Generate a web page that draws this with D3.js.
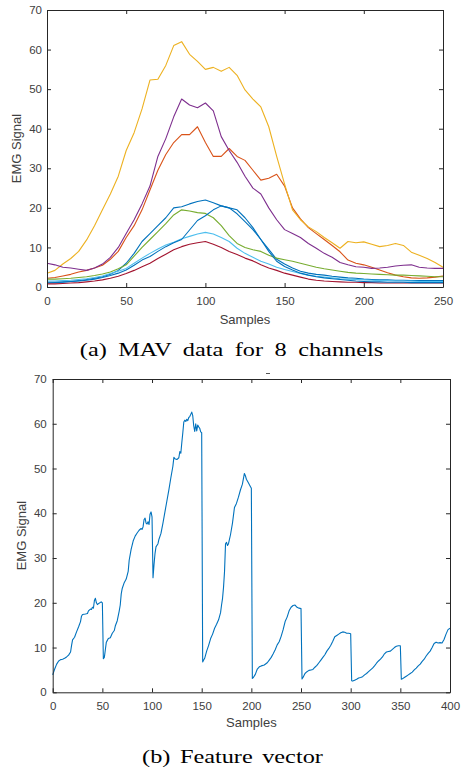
<!DOCTYPE html>
<html>
<head>
<meta charset="utf-8">
<script src="https://cdnjs.cloudflare.com/ajax/libs/d3/7.8.5/d3.min.js"></script>
<style>
	html, body { margin: 0; padding: 0; background: #fff; }
	svg { display: block; }
	.tick text { font-family: "Liberation Sans", Arial, sans-serif; font-size: 11.5px; fill: #404040; }
	.axis path, .axis line { stroke: #262626; }
	.lbl { font-family: "Liberation Sans", Arial, sans-serif; font-size: 13px; fill: #404040; }
	.cap { font-family: "Liberation Serif", "Times New Roman", serif; font-size: 18px; fill: #000; }
</style>
</head>
<body>
<div id="chart"></div>
<script>

// MAV data, one value every 5 samples
const channelSamples = [0,5,10,15,20,25,30,35,40,45,50,55,60,65,70,75,80,85,90,95,100,105,110,115,120,125,130,135,140,145,150,155,160,165,170,175,180,185,190,195,200,205,210,215,220,225,230,235,240,245,250];

const ch1 = [1.0,1.1,1.2,1.4,1.6,1.9,2.2,2.6,3.2,4.2,6.0,8.5,11.5,13.5,15.5,17.5,20.0,20.3,21.0,21.6,22.0,21.3,20.5,20.0,18.5,16.5,14.5,12.0,9.5,7.0,5.8,4.8,4.0,3.5,3.2,3.0,2.7,2.5,2.3,2.2,2.0,1.9,1.8,1.8,1.7,1.7,1.6,1.6,1.6,1.6,1.6];
const ch2 = [2.2,2.4,2.8,3.2,3.8,4.2,4.8,5.5,7.0,9.0,12.5,15.5,19.5,24.5,29.5,33.5,36.5,38.5,38.5,40.5,36.5,33.0,33.0,35.0,33.0,32.0,29.5,27.0,27.5,28.5,25.5,20.0,17.2,15.0,13.5,12.0,10.5,8.9,6.8,6.0,5.6,5.0,4.3,3.6,3.0,2.6,2.3,2.2,2.3,2.5,2.8];
const ch3 = [3.5,4.2,5.8,7.2,9.0,11.9,15.5,19.5,23.5,28.0,34.5,39.0,45.0,52.3,52.5,56.0,61.0,62.0,58.8,57.0,55.0,55.5,54.5,55.5,53.5,49.8,47.5,45.5,40.5,33.0,26.0,19.5,17.0,15.2,14.0,12.5,11.2,9.8,11.5,11.2,11.4,10.8,10.2,10.5,11.0,10.5,8.8,8.0,7.2,6.2,5.0];
const ch4 = [6.0,5.6,5.0,4.8,4.5,4.2,4.8,5.8,7.5,10.0,13.5,17.0,21.0,25.5,33.0,37.5,43.0,47.5,46.0,45.3,46.5,44.5,38.0,34.5,31.5,28.0,25.0,23.5,20.0,17.0,14.5,13.5,12.5,11.0,9.8,8.5,7.5,6.2,5.6,5.1,5.0,4.7,4.8,5.0,5.3,5.5,5.6,5.0,4.8,4.7,4.7];
const ch5 = [2.0,2.0,2.1,2.2,2.4,2.6,2.9,3.3,3.8,4.6,5.6,7.8,10.0,12.0,14.0,16.0,18.2,19.5,19.2,18.8,18.6,17.5,15.5,13.0,11.0,10.0,9.4,9.0,8.0,7.3,6.9,6.5,6.0,5.5,5.0,4.6,4.3,4.0,3.7,3.5,3.4,3.3,3.2,3.1,3.0,3.0,2.9,2.8,2.7,2.6,2.6];
const ch6 = [1.5,1.5,1.6,1.7,1.9,2.1,2.4,2.8,3.4,4.0,4.7,6.0,7.3,8.5,9.6,10.6,11.3,12.2,12.8,13.4,13.8,13.4,12.5,11.5,9.8,8.5,7.5,6.5,5.8,5.0,4.4,3.9,3.4,3.0,2.7,2.5,2.3,2.1,2.0,1.9,1.8,1.7,1.6,1.6,1.5,1.5,1.5,1.4,1.4,1.4,1.4];
const ch7 = [0.8,0.8,0.9,1.0,1.1,1.3,1.5,1.8,2.2,2.7,3.4,4.2,5.1,6.0,7.2,8.3,9.4,10.2,10.8,11.2,11.5,10.8,10.0,9.0,8.2,7.3,6.6,5.6,4.8,4.2,3.5,3.0,2.5,2.0,1.7,1.5,1.4,1.3,1.2,1.2,1.1,1.1,1.0,1.0,1.0,1.0,1.0,1.0,1.0,1.0,1.0];
const ch8 = [1.2,1.2,1.3,1.4,1.5,1.7,2.0,2.4,2.9,3.5,4.3,5.5,6.8,7.7,9.0,10.2,11.2,12.0,14.4,16.8,18.0,19.5,20.5,20.0,19.5,17.5,15.0,12.0,9.0,6.5,5.2,4.3,3.5,3.0,2.6,2.3,2.1,1.9,1.7,1.5,1.4,1.3,1.3,1.2,1.2,1.2,1.1,1.1,1.1,1.1,1.1];

const channels = [ch1, ch2, ch3, ch4, ch5, ch6, ch7, ch8];
const channelColors = ['#0072BD','#D95319','#EDB120','#7E2F8E','#77AC30','#4DBEEE','#A2142F','#0072BD'];

// feature vector (8 x 50 samples)
const featureSamples = [0,2,4,6,8,10,12,14,16,18,19,20,22,24,26,28,29,30,33,35,36,38,39,40,41,42,43,44,45,46,48,49,50,
	51,52,53,54,55,56,58,60,62,63,65,67,68,69,70,72,74,76,77,79,81,83,85,87,89,90,91,92,93,94,95,96,97,98,99,100,
	101,102,103,104,106,107,109,111,113,115,117,119,121,122,123,125,127,128,129,130,131,132,133,134,135,136,137,138,139,140,141,142,143,144,145,146,147,148,149,150,
	151,152,153,155,157,159,161,163,165,167,169,170,171,172,173,174,175,176,177,179,181,183,185,187,189,191,193,194,195,197,199,200,
	201,202,204,206,208,210,213,216,218,220,222,224,226,228,230,232,234,236,238,240,242,244,246,248,250,
	251,252,254,256,258,260,262,264,266,268,270,272,274,276,278,280,282,284,286,288,290,292,294,296,298,300,
	301,302,304,306,308,310,312,314,316,318,320,322,324,326,328,330,332,334,336,338,340,342,344,346,348,350,
	351,352,354,356,358,360,362,364,366,368,370,372,374,376,378,380,382,384,386,388,390,392,394,396,398,400];
const featureValues = [3.9,5.2,6.3,7.0,7.3,7.4,7.6,7.9,8.3,9.0,10.5,11.7,12.3,13.5,14.6,15.8,17.0,17.4,17.5,17.6,18.2,18.6,18.5,19.0,18.8,20.5,21.0,20.0,19.6,19.8,20.1,20.2,20.0,
	7.5,7.8,9.5,11.2,11.6,12.0,12.2,13.2,13.8,14.8,16.0,18.2,19.5,22.0,23.2,24.5,25.3,27.0,29.5,32.0,33.8,34.9,35.6,36.2,36.6,36.4,37.0,38.6,38.9,37.8,37.6,38.1,37.5,39.8,40.3,39.2,
	25.6,28.5,31.0,32.5,33.2,34.2,35.5,37.8,40.3,42.8,45.3,48.0,50.5,52.5,52.2,52.0,52.4,53.8,53.4,55.8,58.0,60.4,60.8,60.5,61.0,60.7,61.4,61.6,62.1,62.6,61.8,59.5,58.3,60.0,58.4,59.7,59.3,59.0,58.2,58.0,
	6.8,7.2,7.6,9.2,10.5,12.0,13.0,14.3,15.2,16.2,17.8,19.5,21.0,23.5,27.0,33.2,33.5,32.8,33.2,35.2,37.8,41.3,42.2,43.6,45.2,46.5,48.9,48.4,47.6,46.8,46.0,45.6,
	3.1,3.3,4.0,5.2,5.7,5.9,6.1,6.6,7.2,7.8,8.6,9.5,10.6,11.3,12.5,14.0,15.8,16.8,18.2,19.0,19.4,19.5,19.0,18.8,18.7,
	3.0,3.3,4.2,4.6,4.9,5.0,5.1,5.6,6.0,6.6,7.2,7.8,8.4,9.2,9.8,10.5,11.4,12.4,12.7,13.0,13.3,13.5,13.4,13.2,13.2,13.1,
	2.6,2.5,2.7,2.9,3.2,3.3,3.5,3.9,4.2,4.6,5.0,5.4,5.9,6.5,7.0,7.4,7.9,8.6,9.0,9.1,9.2,9.6,10.0,10.3,10.4,10.4,
	2.9,3.0,3.3,3.6,3.9,4.2,4.5,5.0,5.4,5.9,6.3,6.9,7.4,8.1,8.7,9.2,10.0,10.9,11.2,11.0,11.1,11.0,11.8,13.0,14.0,14.3];

const yTicks = [0,10,20,30,40,50,60,70];
const xTicksTop = [0,50,100,150,200,250];
const xTicksBottom = [0,50,100,150,200,250,300,350,400];


const W = 464;
const H = 770;

const svg = d3.select('#chart')
	.append('svg')
	.attr('width', W)
	.attr('height', H);


function drawPanel(box, xMax, xTicks, lines, labelPad){

	const x = d3.scaleLinear().domain([0, xMax]).range([box.l, box.r]);
	const y = d3.scaleLinear().domain([0, 70]).range([box.b, box.t]);

	const g = svg.append('g').attr('class','panel');

	const line = d3.line()
		.x(function(d){return x(d[0])})
		.y(function(d){return y(d[1])});

	g.selectAll('.series')
		.data(lines)
		.enter()
		.append('path')
		.attr('class','series')
		.attr('d', function(d){return line(d.pts)})
		.style('fill','none')
		.style('stroke', function(d){return d.color})
		.style('stroke-width', 1.1)
		.style('stroke-linejoin','round');

	// box with inward ticks, matlab style
	g.append('g').attr('class','axis')
		.attr('transform', `translate(0,${box.b})`)
		.call(d3.axisBottom(x).tickValues(xTicks).tickSizeInner(-4).tickSizeOuter(0).tickPadding(labelPad));
	g.append('g').attr('class','axis')
		.attr('transform', `translate(0,${box.t})`)
		.call(d3.axisTop(x).tickValues(xTicks).tickSizeInner(-4).tickSizeOuter(0).tickFormat(''));
	g.append('g').attr('class','axis')
		.attr('transform', `translate(${box.l},0)`)
		.call(d3.axisLeft(y).tickValues(yTicks).tickSizeInner(-4).tickSizeOuter(0).tickPadding(box.yPad));
	g.append('g').attr('class','axis')
		.attr('transform', `translate(${box.r},0)`)
		.call(d3.axisRight(y).tickValues(yTicks).tickSizeInner(-4).tickSizeOuter(0).tickFormat(''));

	g.append('text')
		.attr('class','lbl')
		.attr('x', (box.l + box.r)/2)
		.attr('y', box.xLabelY)
		.attr('text-anchor','middle')
		.text('Samples');

	g.append('text')
		.attr('class','lbl')
		.attr('transform', `translate(${box.yLabelX},${(box.t + box.b)/2}) rotate(-90)`)
		.attr('text-anchor','middle')
		.text('EMG Signal');

	return g;
}


const topLines = channels.map(function(vals, i){
	return {
		color: channelColors[i],
		pts: channelSamples.map(function(s, j){return [s, vals[j]]})
	};
});

drawPanel({l:47, r:443, t:10, b:287, yPad:5, xLabelY:324, yLabelX:21}, 250, xTicksTop, topLines, 9.5);

const bottomLines = [{
	color: '#0072BD',
	pts: featureSamples.map(function(s, j){return [s, featureValues[j]]})
}];

drawPanel({l:52.7, r:450, t:379, b:692.3, yPad:6, xLabelY:727, yLabelX:26}, 400, xTicksBottom, bottomLines, 10);

// small stray mark above panel b
svg.append('line')
	.attr('x1', 266).attr('x2', 270)
	.attr('y1', 373.5).attr('y2', 373.5)
	.style('stroke', '#555')
	.style('stroke-width', 1);

// captions: wide serif, stretched horizontally
svg.append('text')
	.attr('class','cap')
	.attr('transform', 'translate(231.5,356) scale(1.35,1)')
	.attr('text-anchor','middle')
	.style('word-spacing','4px')
	.text('(a) MAV data for 8 channels');

svg.append('text')
	.attr('class','cap')
	.attr('transform', 'translate(232.5,763) scale(1.35,1)')
	.attr('text-anchor','middle')
	.style('word-spacing','2.5px')
	.text('(b) Feature vector');

</script>
</body>
</html>
